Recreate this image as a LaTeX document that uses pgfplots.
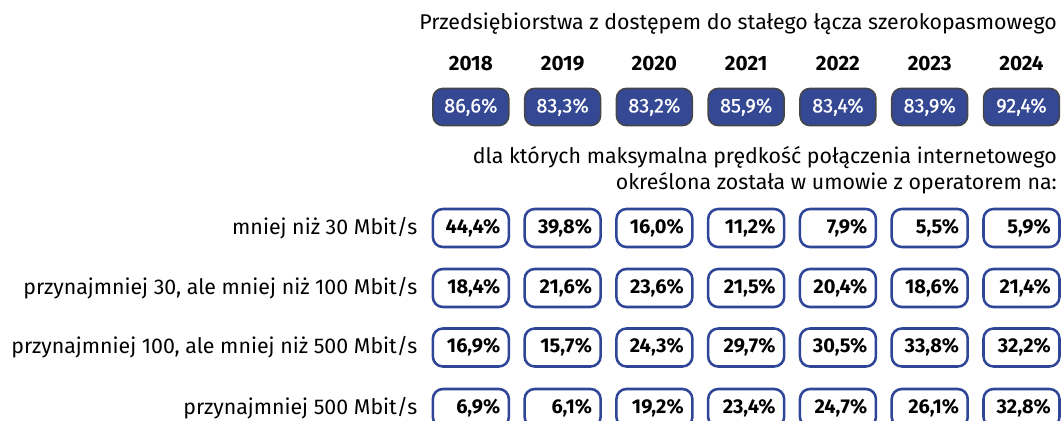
\documentclass[border=0pt]{standalone}
\usepackage{pgfplots}
\pgfplotsset{compat=1.18}
\usepackage{fontspec}
\setmainfont{Fira Sans}
\newfontfamily\firamed{Fira Sans}[FakeBold=0.6]
\definecolor{boxblue}{RGB}{52,72,148}
\definecolor{edgeblue}{RGB}{47,70,152}
\definecolor{edgegray}{RGB}{70,70,70}
\begin{document}
\begin{tikzpicture}[
  lab/.style={anchor=base east, inner xsep=0pt, font=\fontsize{16}{16}\selectfont},
  yr/.style={anchor=base, font=\bfseries\fontsize{15.5}{15.5}\selectfont}]
\begin{axis}[
  width=795.75pt, height=315.75pt, scale only axis,
  xmin=2012.8692, xmax=2024.4305, ymin=0, ymax=421, y dir=reverse,
  axis lines=none, clip=false,
  point meta=explicit,
  nodes near coords={\pgfmathprintnumber[fixed,fixed zerofill,precision=1,use comma,assume math mode=true]{\pgfplotspointmeta}\%},
  nodes near coords align=center,
  whitebox/.style={draw=none, mark=none,
    every node near coord/.style={anchor=center, draw=edgeblue, line width=1.9pt, rounded corners=7.5pt,
      fill=white, text=black, minimum width=57pt, minimum height=28.5pt, inner xsep=0pt,
      text width=44pt, align=right, font=\bfseries\fontsize{15}{15}\selectfont}},
  bluebox/.style={draw=none, mark=none,
    every node near coord/.style={anchor=center, draw=edgegray, line width=1.1pt, rounded corners=7.5pt,
      fill=boxblue, text=white, minimum width=57pt, minimum height=28pt, inner xsep=0pt,
      text width=54pt, align=center, font=\firamed\fontsize{15}{15}\selectfont}},
]
\coordinate (BL) at (rel axis cs:0,0);
\coordinate (TR) at (rel axis cs:1,1);
% totals
\addplot[bluebox] coordinates {(2018,107)[86.6] (2019,107)[83.3] (2020,107)[83.2] (2021,107)[85.9] (2022,107)[83.4] (2023,107)[83.9] (2024,107)[92.4]};
% < 30 Mbit/s
\addplot[whitebox] coordinates {(2018,228)[44.4] (2019,228)[39.8] (2020,228)[16.0] (2021,228)[11.2] (2022,228)[7.9] (2023,228)[5.5] (2024,228)[5.9]};
% 30-100
\addplot[whitebox] coordinates {(2018,288)[18.4] (2019,288)[21.6] (2020,288)[23.6] (2021,288)[21.5] (2022,288)[20.4] (2023,288)[18.6] (2024,288)[21.4]};
% 100-500
\addplot[whitebox] coordinates {(2018,347.5)[16.9] (2019,347.5)[15.7] (2020,347.5)[24.3] (2021,347.5)[29.7] (2022,347.5)[30.5] (2023,347.5)[33.8] (2024,347.5)[32.2]};
% >= 500
\addplot[whitebox] coordinates {(2018,408)[6.9] (2019,408)[6.1] (2020,408)[19.2] (2021,408)[23.4] (2022,408)[24.7] (2023,408)[26.1] (2024,408)[32.8]};
% years
\node[yr] at (axis cs:2018,70) {2018};
\node[yr] at (axis cs:2019,70) {2019};
\node[yr] at (axis cs:2020,70) {2020};
\node[yr] at (axis cs:2021,70) {2021};
\node[yr] at (axis cs:2022,70) {2022};
\node[yr] at (axis cs:2023,70) {2023};
\node[yr] at (axis cs:2024,70) {2024};
\node[lab] at (axis cs:2024.387,29) {Przedsiębiorstwa z dostępem do stałego łącza szerokopasmowego};
\node[lab] at (axis cs:2024.387,163) {dla których maksymalna prędkość połączenia internetowego};
\node[lab] at (axis cs:2024.387,189) {określona została w umowie z operatorem na:};
\node[lab] at (axis cs:2017.42,234) {mniej niż 30 Mbit/s};
\node[lab] at (axis cs:2017.42,294) {przynajmniej 30, ale mniej niż 100 Mbit/s};
\node[lab] at (axis cs:2017.42,353.5) {przynajmniej 100, ale mniej niż 500 Mbit/s};
\node[lab] at (axis cs:2017.42,414) {przynajmniej 500 Mbit/s};
\end{axis}
\pgfresetboundingbox
\useasboundingbox (BL) rectangle (TR);
\end{tikzpicture}
\end{document}
